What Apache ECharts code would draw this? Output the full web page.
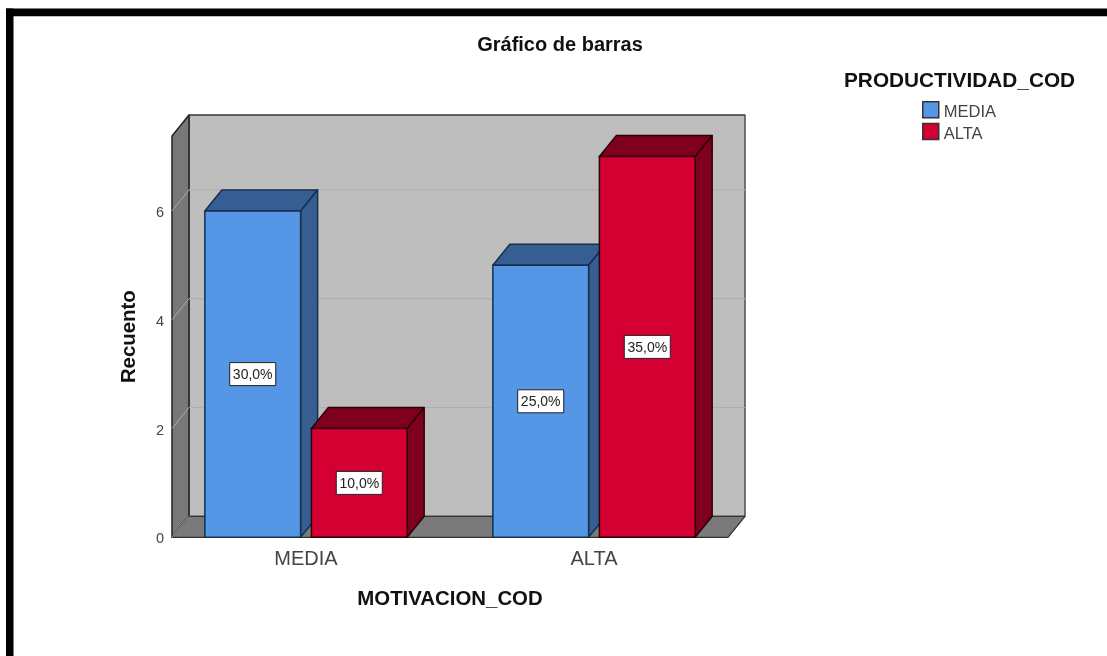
<!DOCTYPE html>
<html>
<head>
<meta charset="utf-8">
<style>html,body{margin:0;padding:0;background:#fff}#c{width:1107px;height:656px}</style>
<script src="https://cdn.jsdelivr.net/npm/echarts@6/dist/echarts.min.js"></script>
</head>
<body>
<div id="c"></div>
<script>
const categories = ['MEDIA', 'ALTA'];
const mediaValues = [6, 5];
const altaValues = [2, 7];
const mediaLabels = ['30,0%', '25,0%'];
const altaLabels = ['10,0%', '35,0%'];
const yTicks = [0, 2, 4, 6];
const titleText = 'Gráfico de barras';
const legendTitle = 'PRODUCTIVIDAD_COD';
const xName = 'MOTIVACION_COD';
const yName = 'Recuento';

const FONT = '"Liberation Sans", Arial, sans-serif';
const DX = 17, DY = 21, INSET = 10;
const BAR = 0.3325, GAP = 0.0375;
const palette = {
  MEDIA: { front: '#5596E6', top: '#365E92', side: '#365E92', line: '#16304f' },
  ALTA: { front: '#D50032', top: '#7E001E', side: '#7E001E', line: '#2b0009' }
};

function poly(points, fill, stroke, w) {
  return { type: 'polygon', shape: { points }, style: { fill, stroke, lineWidth: w, lineJoin: 'round' } };
}

function renderWalls(params, api) {
  const cs = params.coordSys;
  const x0 = cs.x + INSET, x1 = cs.x + cs.width - INSET, yT = cs.y, yB = cs.y + cs.height;
  const children = [
    poly([[x0 + DX, yT - DY], [x1 + DX, yT - DY], [x1 + DX, yB - DY], [x0 + DX, yB - DY]], '#BEBEBE', '#3a3a3a', 1.3),
    poly([[x0, yT], [x0 + DX, yT - DY], [x0 + DX, yB - DY], [x0, yB]], '#787878', '#222', 1.5),
    poly([[x0, yB], [x0 + DX, yB - DY], [x1 + DX, yB - DY], [x1, yB]], '#7A7A7A', '#333', 1.3)
  ];
  yTicks.forEach(v => {
    const y = api.coord([0, v])[1];
    if (v > 0) children.push({ type: 'line', shape: { x1: x0 + DX, y1: y - DY, x2: x1 + DX, y2: y - DY }, style: { stroke: '#AFAFAF', lineWidth: 1.2 } });
    children.push({ type: 'line', shape: { x1: x0, y1: y, x2: x0 + DX, y2: y - DY }, style: { stroke: '#ABABAB', lineWidth: 1 } });
  });
  return { type: 'group', children };
}

function makeBar(name, values, labels, slot) {
  const c = palette[name];
  return {
    name, type: 'custom', coordinateSystem: 'cartesian2d', z: 3,
    itemStyle: { color: c.front, borderColor: '#333', borderWidth: 1 },
    encode: { x: 0, y: 1 }, clip: false,
    data: values.map((v, i) => [i, v]),
    renderItem(params, api) {
      const i = params.dataIndex;
      const band = api.size([1, 0])[0];
      const base = api.coord([api.value(0), 0]);
      const top = api.coord([api.value(0), api.value(1)]);
      const w = band * BAR, g = band * GAP;
      const l = slot === 0 ? base[0] - g / 2 - w : base[0] + g / 2;
      const r = l + w, t = top[1], b = base[1];
      const midX = (l + r) / 2, midY = (t + b) / 2;
      return { type: 'group', children: [
        poly([[l, t], [l + DX, t - DY], [r + DX, t - DY], [r, t]], c.top, c.line, 1.5),
        poly([[r, t], [r + DX, t - DY], [r + DX, b - DY], [r, b]], c.side, c.line, 1.5),
        { type: 'rect', shape: { x: l, y: t, width: w, height: b - t }, style: { fill: c.front, stroke: c.line, lineWidth: 1.5 } },
        { type: 'rect', shape: { x: midX - 23, y: midY - 11.5, width: 46, height: 23 }, style: { fill: '#fff', stroke: '#222', lineWidth: 1 } },
        { type: 'text', style: { x: midX, y: midY + 1, text: labels[i], fill: '#222', font: '14px ' + FONT, align: 'center', verticalAlign: 'middle' } }
      ] };
    }
  };
}

const chart = echarts.init(document.getElementById('c'), null, { renderer: 'canvas' });
chart.setOption({
  animation: false,
  backgroundColor: '#fff',
  title: [
    { text: titleText, left: 560, top: 35, textAlign: 'center', padding: 0, textStyle: { fontFamily: FONT, fontSize: 20, fontWeight: 'bold', color: '#111' } },
    { text: legendTitle, left: 844, top: 71, padding: 0, textStyle: { fontFamily: FONT, fontSize: 20.8, fontWeight: 'bold', color: '#111' } }
  ],
  legend: {
    orient: 'vertical', left: 922, top: 101, padding: 0, itemWidth: 16, itemHeight: 16, itemGap: 2,
    selectedMode: false,
    formatter: '{t|{name}}',
    textStyle: { rich: { t: { fontFamily: FONT, fontSize: 16.5, color: '#444', padding: [5, 0, 0, 0] } } },
    data: categories.map(n => ({ name: n, icon: 'rect', itemStyle: { color: palette[n].front, borderColor: '#333', borderWidth: 1.5 } }))
  },
  grid: { left: 162, top: 136, width: 576, height: 401.3 },
  xAxis: {
    type: 'category', data: categories,
    name: xName, nameLocation: 'middle', nameGap: 52,
    nameTextStyle: { fontFamily: FONT, fontSize: 20.4, fontWeight: 'bold', color: '#111' },
    axisLine: { show: false }, axisTick: { show: false },
    axisLabel: { fontFamily: FONT, fontSize: 20, color: '#444', margin: 12 }
  },
  yAxis: {
    type: 'value', min: 0, max: 7.377, interval: 2,
    name: yName, nameLocation: 'middle', nameGap: 23,
    nameTextStyle: { fontFamily: FONT, fontSize: 20.4, fontWeight: 'bold', color: '#111' },
    splitLine: { show: false }, axisLine: { show: false }, axisTick: { show: false },
    axisLabel: {
      customValues: yTicks, margin: -2, formatter: '{t|{value}}',
      rich: { t: { fontFamily: FONT, fontSize: 14.5, color: '#444', padding: [4, 0, 0, 0] } }
    }
  },
  graphic: [
    { type: 'rect', z: 10, shape: { x: 6, y: 8.5, width: 7.5, height: 648 }, style: { fill: '#000' } },
    { type: 'rect', z: 10, shape: { x: 6, y: 8.5, width: 1101, height: 7.7 }, style: { fill: '#000' } }
  ],
  series: [
    { name: 'walls', type: 'custom', coordinateSystem: 'cartesian2d', z: 1, clip: false, silent: true, data: [[0, 0]], encode: { x: 0, y: 1 }, renderItem: renderWalls },
    makeBar('MEDIA', mediaValues, mediaLabels, 0),
    makeBar('ALTA', altaValues, altaLabels, 1)
  ]
});
</script>
</body>
</html>
